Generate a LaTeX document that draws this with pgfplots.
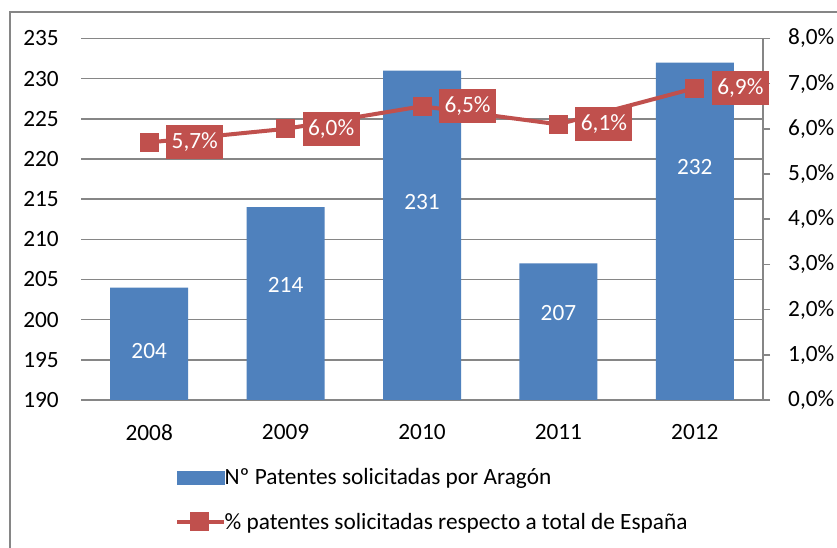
\documentclass[border=0pt]{standalone}
\usepackage{fontspec}
\setmainfont{Carlito}
\usepackage{pgfplots}
\pgfplotsset{compat=1.18}
\definecolor{barblue}{HTML}{4F81BD}
\definecolor{linered}{HTML}{C0504D}
\definecolor{gridgray}{HTML}{868686}
\newcommand\ff{\fontsize{23.3}{28}\selectfont}
\begin{document}
\begin{tikzpicture}
\useasboundingbox (0,0) rectangle (837pt,548pt);
\fill[white] (0,0) rectangle (837pt,548pt);
\draw[gridgray, line width=1.5pt] (10pt,-5pt) -- (10pt,536pt) -- (850pt,536pt);
% bars, left axis
\begin{axis}[
  at={(81pt,148pt)}, anchor=south west,
  width=682pt, height=361.5pt, scale only axis,
  xmin=-0.5, xmax=4.5, ymin=190, ymax=235,
  axis line style={draw=none},
  ytick={190,195,...,235},
  yticklabels={190,195,200,205,210,215,220,225,230,235},
  xtick={0,1,2,3,4},
  xticklabels={2008,2009,2010,2011,2012},
  major tick length=0pt,
  ymajorgrids, grid style={gridgray, line width=1.5pt},
  yticklabel style={font=\ff, anchor=east, inner sep=0pt, xshift=-22pt},
  xticklabel style={font=\ff, anchor=north, inner sep=0pt, yshift=-24pt},
  clip=false,
]
\addplot[ybar, bar width=78pt, bar shift=0pt, fill=barblue, draw=none]
  coordinates {(0,204) (1,214) (2,231) (3,207) (4,232)};
\addplot[draw=none, mark=none, point meta=explicit symbolic,
  nodes near coords, nodes near coords align={center},
  nodes near coords style={font=\ff, text=white, anchor=center, inner sep=0pt}]
  table[meta=lab] {
x y lab
0 196.1 204
1 204.3 214
2 214.7 231
3 200.8 207
4 219.0 232
};
\end{axis}
% line, right axis
\begin{axis}[
  at={(81pt,148pt)}, anchor=south west,
  width=682pt, height=361.5pt, scale only axis,
  xmin=-0.5, xmax=4.5, ymin=0, ymax=8,
  axis x line=none,
  axis y line*=right,
  axis line style={gridgray, line width=1.5pt},
  ytick={0,1,...,8},
  yticklabels={{0,0\%},{1,0\%},{2,0\%},{3,0\%},{4,0\%},{5,0\%},{6,0\%},{7,0\%},{8,0\%}},
  tick align=outside, major tick length=7pt,
  tick style={gridgray, line width=1.5pt},
  yticklabel style={font=\ff, anchor=west, inner sep=0pt, xshift=18pt},
  clip=false,
  legend style={at={(0.1378,-0.186)}, anchor=north west, draw=none, fill=none,
    inner sep=0pt, row sep=25pt, column sep=0pt,
    nodes={font=\ff, inner sep=1pt}},
  legend cell align=left,
]
\addlegendimage{legend image code/.code={\fill[barblue] (0pt,-6.5pt) rectangle (47pt,6.5pt);}}
\addlegendentry{\kern-3pt Nº Patentes solicitadas por Aragón}
\addplot[linered, line width=4pt, mark=square*, mark size=7.5pt,
  mark options={draw=none, fill=linered},
  point meta=explicit symbolic, nodes near coords,
  nodes near coords style={font=\ff, text=white, fill=linered, anchor=west,
    xshift=15pt, inner xsep=5.5pt, inner ysep=0pt, minimum height=34pt},
  legend image code/.code={\draw[linered, line width=4.5pt] (0pt,0pt) -- (47pt,0pt);
    \fill[linered] (15pt,-7.5pt) rectangle (30pt,7.5pt);}]
  table[meta=lab] {
x y lab
0 5.7 5,7\%
1 6.0 6,0\%
2 6.5 6,5\%
3 6.1 6,1\%
4 6.9 6,9\%
};
\addlegendentry{\kern-3pt\% patentes solicitadas respecto a total de España}
\end{axis}
\end{tikzpicture}
\end{document}
